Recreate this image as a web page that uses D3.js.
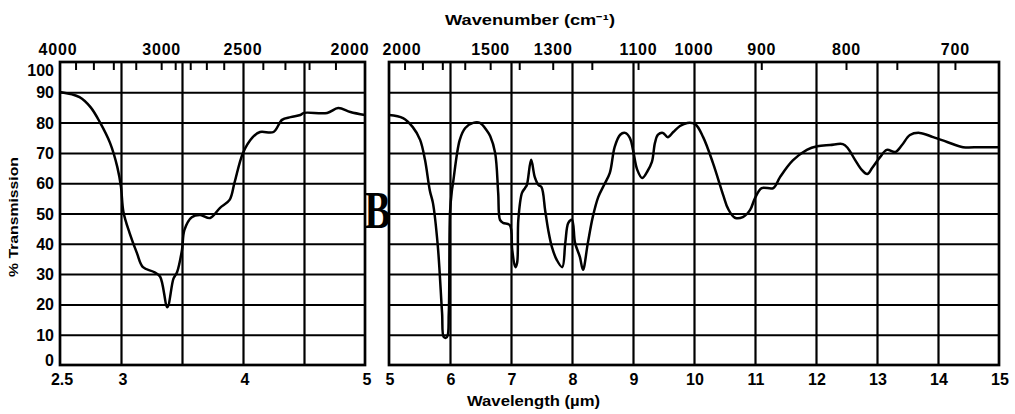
<!DOCTYPE html>
<html><head><meta charset="utf-8">
<script src="https://cdn.jsdelivr.net/npm/d3@7"></script>
<style>body{margin:0;background:#fff}svg{display:block}</style>
</head><body>
<svg id="c" width="1015" height="414"></svg>
<script>
// ---------- DATA ----------
const leftWavelength = [2.5, 2.66, 2.75, 2.83, 2.91, 2.97, 3.0, 3.02, 3.07, 3.13, 3.18, 3.27, 3.32, 3.38, 3.43, 3.46, 3.5, 3.52, 3.58, 3.65, 3.73, 3.81, 3.89, 3.93, 4.0, 4.08, 4.14, 4.25, 4.32, 4.39, 4.47, 4.5, 4.69, 4.78, 4.88, 5.0];
const leftTransmission = [90.1, 88.4, 85.1, 79.9, 73.3, 65.3, 58.7, 50.5, 43.6, 37, 32.3, 30.7, 29.2, 19.1, 28.5, 30.7, 38, 44.6, 48.8, 49.5, 48.5, 51.8, 54.5, 60.1, 70, 75.2, 76.9, 76.9, 80.9, 81.8, 82.5, 83.2, 83.2, 84.8, 83.5, 82.5];

const rightWavelength = [5.0, 5.23, 5.39, 5.51, 5.59, 5.67, 5.72, 5.8, 5.87, 5.9, 5.95, 5.98, 6.0, 6.03, 6.05, 6.16, 6.25, 6.38, 6.49, 6.6, 6.66, 6.74, 6.79, 6.82, 6.87, 6.98, 7.02, 7.07, 7.1, 7.12, 7.18, 7.23, 7.26, 7.33, 7.39, 7.45, 7.5, 7.56, 7.61, 7.67, 7.75, 7.84, 7.89, 7.94, 8.0, 8.05, 8.13, 8.18, 8.26, 8.34, 8.43, 8.54, 8.62, 8.7, 8.79, 8.87, 8.95, 9.0, 9.07, 9.15, 9.23, 9.31, 9.36, 9.41, 9.49, 9.57, 9.66, 9.77, 9.89, 10.02, 10.15, 10.31, 10.48, 10.56, 10.67, 10.8, 10.92, 11.0, 11.11, 11.3, 11.41, 11.62, 11.85, 12.02, 12.23, 12.44, 12.52, 12.64, 12.75, 12.84, 12.92, 13.05, 13.16, 13.3, 13.41, 13.54, 13.7, 13.92, 14.15, 14.41, 14.69, 15.0];
const rightTransmission = [82.5, 81.5, 78.5, 74.3, 67.7, 57.5, 53.5, 39.3, 17.2, 9.2, 9.2, 17.2, 50.2, 57.4, 60.1, 74.3, 78.2, 79.9, 79.9, 77.5, 75.5, 70, 56.8, 47.9, 46.9, 46.2, 38, 32.3, 33.7, 47.9, 56.8, 58.4, 59.4, 67.7, 62, 59.4, 58.7, 51, 44.6, 39, 34.7, 32.3, 40.3, 46.9, 47.9, 40.3, 35.6, 31.4, 40.3, 48.8, 55.4, 60, 63.4, 72, 76, 76.6, 74.9, 71, 64.4, 61.7, 63.7, 67, 73.3, 76, 76.6, 75.2, 76.9, 78.9, 79.9, 79.5, 75.2, 66.7, 56, 51.5, 48.6, 48.8, 51.2, 55.1, 58.4, 58.4, 62, 67.5, 71, 72.2, 72.6, 72.9, 71.6, 67.7, 64.4, 63, 65, 68.6, 71, 70.3, 72.6, 75.9, 76.6, 75.2, 73.6, 71.9, 71.9, 71.9];

const leftGridWavelength = [3, 3.5, 4, 4.5];
const rightGridWavelength = [6, 7, 8, 9, 10, 11, 12, 13, 14];
const gridTransmission = [10, 20, 30, 40, 50, 60, 70, 80, 90];
const yTickLabels = [0, 10, 20, 30, 40, 50, 60, 70, 80, 90, 100];
const leftBottomLabels = [2.5, 3, 4, 5];
const rightBottomLabels = [5, 6, 7, 8, 9, 10, 11, 12, 13, 14, 15];
const leftTopTicks = [3800, 3600, 3400, 3200, 3000, 2900, 2800, 2700, 2600, 2400, 2300, 2200, 2100];
const leftTopLabels = [4000, 3000, 2500, 2000];
const rightTopTicks = [1900, 1800, 1700, 1600, 1500, 1400, 1300, 1200, 1100, 900, 800, 750, 700];
const rightTopLabels = [2000, 1500, 1300, 1100, 1000, 900, 800, 700];

// ---------- LAYOUT ----------
const svg = d3.select("#c");
const plotTop = 62, plotBottom = 365;
const xL = d3.scaleLinear().domain([2.5, 5]).range([60, 365]);
const xR = d3.scaleLinear().domain([5, 15]).range([389, 999]);
const y = d3.scaleLinear().domain([0, 100]).range([plotBottom, plotTop]);
const LAB = "'Liberation Sans', Arial, sans-serif";

function panel(x, gridWl, wl, tr) {
  const g = svg.append("g");
  const [x0, x1] = x.range();
  g.append("g").attr("transform", `translate(${x0},0)`)
    .call(d3.axisLeft(y).tickValues(gridTransmission).tickSize(-(x1 - x0)).tickFormat(""))
    .call(s => s.select(".domain").remove())
    .call(s => s.selectAll("line").attr("stroke", "#000").attr("stroke-width", 2));
  g.append("g").attr("transform", `translate(0,${plotBottom})`)
    .call(d3.axisBottom(x).tickValues(gridWl).tickSize(-(plotBottom - plotTop)).tickFormat(""))
    .call(s => s.select(".domain").remove())
    .call(s => s.selectAll("line").attr("stroke", "#000").attr("stroke-width", 2.2));
  g.append("rect").attr("x", x0).attr("y", plotTop).attr("width", x1 - x0).attr("height", plotBottom - plotTop)
    .attr("fill", "none").attr("stroke", "#000").attr("stroke-width", 2.7);
  const pts = wl.map((w, i) => [w, tr[i]]);
  g.append("path").datum(pts)
    .attr("d", d3.line().x(d => x(d[0])).y(d => y(d[1])).curve(d3.curveCatmullRom.alpha(0.5)))
    .attr("fill", "none").attr("stroke", "#000").attr("stroke-width", 2.5).attr("stroke-linejoin", "round");
  return g;
}
panel(xL, leftGridWavelength, leftWavelength, leftTransmission);
panel(xR, rightGridWavelength, rightWavelength, rightTransmission);

function topTicks(x, ticks) {
  svg.append("g").selectAll("line").data(ticks).join("line")
    .attr("x1", d => x(1e4 / d)).attr("x2", d => x(1e4 / d))
    .attr("y1", plotTop).attr("y2", plotTop + 8)
    .attr("stroke", "#000").attr("stroke-width", 2);
}
topTicks(xL, leftTopTicks);
topTicks(xR, rightTopTicks);

function topLabels(x, labels, side) {
  svg.append("g").selectAll("text").data(labels).join("text")
    .attr("x", d => x(1e4 / d) + (d === 2000 ? (side === "L" ? -15 : 13) : (d === 4000 ? -2 : 0)))
    .attr("y", 55)
    .attr("text-anchor", "middle")
    .attr("font-family", LAB).attr("font-weight", "bold").attr("font-size", 16)
    .attr("letter-spacing", 0.8)
    .text(d => d);
}
topLabels(xL, leftTopLabels, "L");
topLabels(xR, rightTopLabels, "R");

svg.append("g").selectAll("text").data(yTickLabels).join("text")
  .attr("x", 54)
  .attr("y", d => y(d) + (d === 100 ? 14 : (d === 0 ? 1 : 6)))
  .attr("text-anchor", "end")
  .attr("font-family", LAB).attr("font-weight", "bold").attr("font-size", 16)
  .text(d => d);

function bottomLabels(x, labels, dx) {
  svg.append("g").selectAll("text").data(labels).join("text")
    .attr("x", d => x(d) + dx)
    .attr("y", 385)
    .attr("text-anchor", "middle")
    .attr("font-family", LAB).attr("font-weight", "bold").attr("font-size", 16)
    .text(d => d);
}
bottomLabels(xL, leftBottomLabels, 2);
bottomLabels(xR, rightBottomLabels, 1);

svg.append("text").attr("x", 445).attr("y", 25)
  .attr("textLength", 170).attr("lengthAdjust", "spacingAndGlyphs")
  .attr("font-family", LAB).attr("font-weight", "bold").attr("font-size", 14)
  .text("Wavenumber (cm\u207B\u00B9)");
svg.append("text").attr("x", 467).attr("y", 406)
  .attr("textLength", 133).attr("lengthAdjust", "spacingAndGlyphs")
  .attr("font-family", LAB).attr("font-weight", "bold").attr("font-size", 14)
  .text("Wavelength (\u00B5m)");
svg.append("text").attr("transform", "translate(18,217) rotate(-90)")
  .attr("text-anchor", "middle")
  .attr("textLength", 120).attr("lengthAdjust", "spacingAndGlyphs")
  .attr("font-family", LAB).attr("font-weight", "bold").attr("font-size", 13)
  .text("% Transmission");

svg.append("text").attr("transform", "translate(377.5,228) scale(0.75,1)")
  .attr("text-anchor", "middle")
  .attr("font-family", "'Liberation Serif', 'DejaVu Serif', serif").attr("font-weight", "bold").attr("font-size", 52)
  .text("B");
</script>
</body></html>
